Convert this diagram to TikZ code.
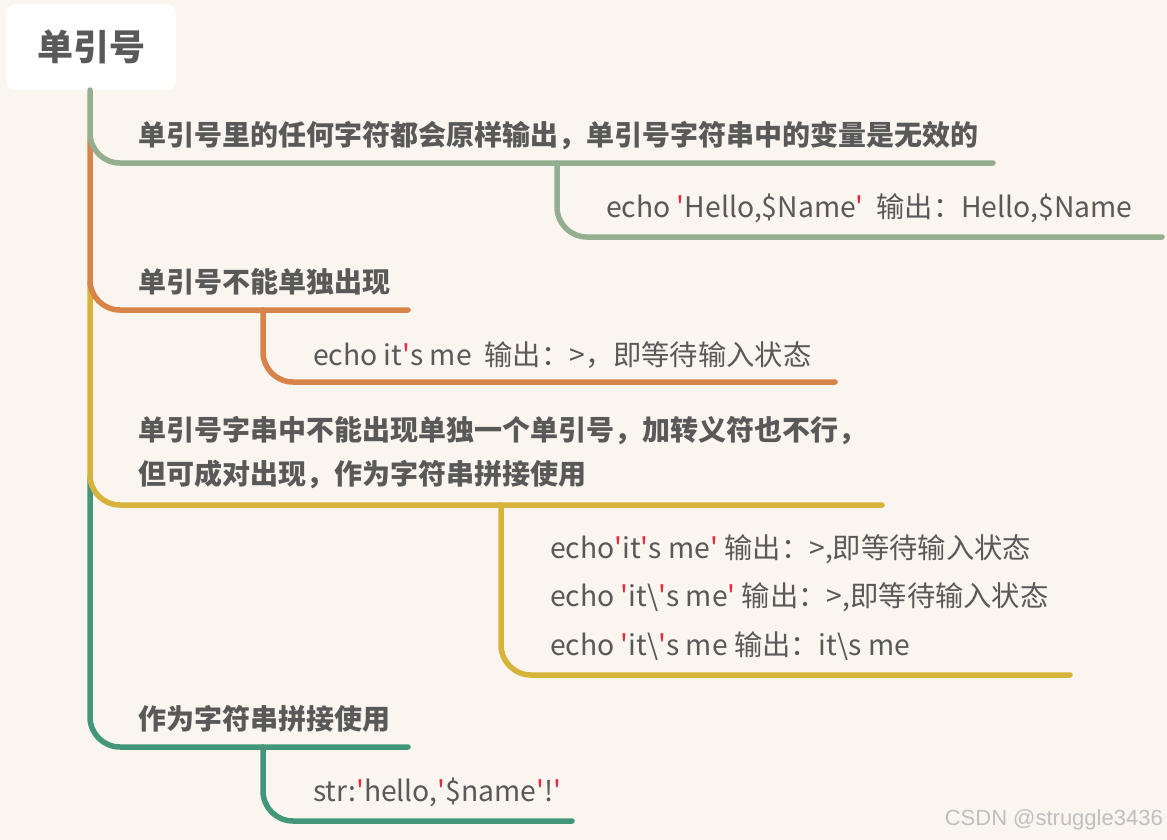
\documentclass[tikz,border=0pt]{standalone}
\usepackage{fontspec}
\newfontfamily\cjk{Noto Sans CJK SC}[Ligatures=TeXOff]
\newfontfamily\wmfont{Liberation Sans}
\definecolor{bgc}{HTML}{FAF6EF}
\definecolor{txt}{HTML}{595959}
\definecolor{sage}{HTML}{95AE8F}
\definecolor{orng}{HTML}{D8834A}
\definecolor{yelw}{HTML}{D8B33B}
\definecolor{teal}{HTML}{43967A}
\definecolor{qred}{HTML}{E8283F}
\newcommand\redq{\textcolor{qred}{'}}
\tikzset{
  branch/.style={line width=5.5pt, line cap=round, rounded corners=30pt},
  title/.style={anchor=west, inner sep=0pt, text=txt, font=\cjk\bfseries\fontsize{28}{44}\selectfont, align=left},
  body/.style={anchor=west, inner sep=0pt, text=txt, font=\cjk\fontsize{28.3}{32}\selectfont},
}
\begin{document}
\begin{tikzpicture}[x=1pt,y=-1pt]
\fill[bgc] (0,0) rectangle (1167,840);
\useasboundingbox (0,0) rectangle (1167,840);
% root
\node[fill=white, rounded corners=10pt, minimum width=170pt, minimum height=86pt, inner sep=0pt] (root) at (91,47) {};
\node[text=txt, font=\cjk\bfseries\fontsize{36}{40}\selectfont, inner sep=0pt] (roottext) at (91,47) {单引号};
% coordinates
\coordinate (t0) at (90,90);
\coordinate (t1) at (90,138);
\coordinate (t2) at (90,282);
\coordinate (t3) at (90,477);
\coordinate (e1) at (993,163);
\coordinate (e2) at (408,310);
\coordinate (e3) at (882,505);
\coordinate (e4) at (408,747);
\coordinate (s1) at (557,163);
\coordinate (f1) at (1162,237);
\coordinate (s2) at (263,310);
\coordinate (f2) at (835,382);
\coordinate (s3) at (501,505);
\coordinate (f3) at (1070,675);
\coordinate (s4) at (263,747);
\coordinate (f4) at (572,821);
% branches (later first)
\draw[branch, teal] (t3) |- (e4);
\draw[branch, teal] (s4) |- (f4);
\draw[branch, yelw] (t2) |- (e3);
\draw[branch, yelw] (s3) |- (f3);
\draw[branch, orng] (t1) |- (e2);
\draw[branch, orng] (s2) |- (f2);
\draw[branch, sage] (t0) |- (e1);
\draw[branch, sage] (s1) |- (f1);
% texts
\node[title] (b1) at (138,136) {单引号里的任何字符都会原样输出，单引号字符串中的变量是无效的};
\node[body] (c1) at (606,208) {echo \redq Hello,\$Name\redq\ \ 输出：Hello,\$Name};
\node[title] (b2) at (138,282) {单引号不能单独出现};
\node[body] (c2) at (313,355) {echo it\redq s me\ \ 输出：>，即等待输入状态};
\node[title] (b3) at (138,453) {单引号字串中不能出现单独一个单引号，加转义符也不行，\\但可成对出现，作为字符串拼接使用};
\node[body] (c3a) at (550,549) {echo\redq it\redq s me\redq\ 输出：>,即等待输入状态};
\node[body] (c3b) at (550,597) {echo \redq it\textbackslash\redq s me\redq\ 输出：>,即等待输入状态};
\node[body] (c3c) at (550,646) {echo \redq it\textbackslash\redq s me 输出：it\textbackslash s me};
\node[title] (b4) at (138,719) {作为字符串拼接使用};
\node[body] (c4) at (313,792) {str:\redq hello,\redq\$name\redq!\redq};
% watermark
\node[anchor=east, inner sep=0pt, text=black!25, font=\wmfont\fontsize{22}{24}\selectfont] (wm) at (1163,820) {CSDN @struggle3436};
\end{tikzpicture}
\end{document}
